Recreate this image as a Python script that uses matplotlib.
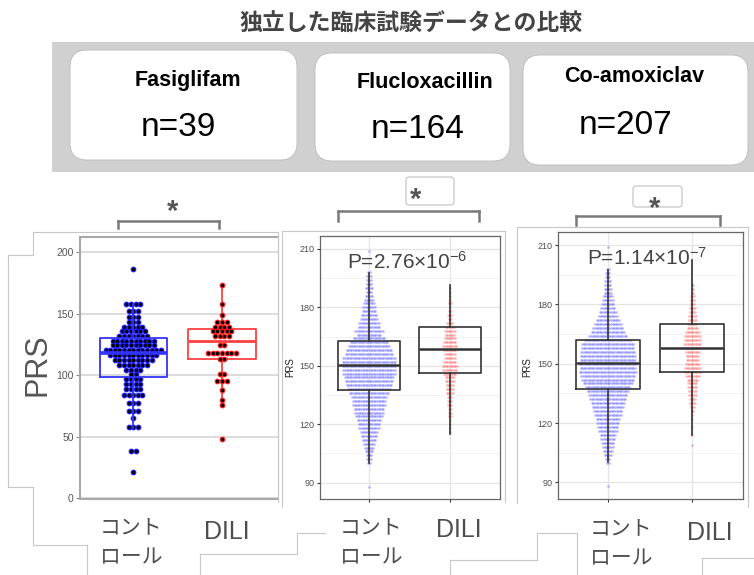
import matplotlib
matplotlib.use('Agg')
import matplotlib.pyplot as plt
from matplotlib.patches import FancyBboxPatch, Rectangle
from matplotlib.lines import Line2D

plt.rcParams['font.family'] = ['Liberation Sans', 'Noto Sans CJK JP', 'DejaVu Sans']
plt.rcParams['mathtext.default'] = 'regular'

W, H = 754, 575

title = '独立した臨床試験データとの比較'
drugs = ['Fasiglifam', 'Flucloxacillin', 'Co-amoxiclav']
n_labels = ['n=39', 'n=164', 'n=207']
group_line1 = 'コント'
group_line2 = 'ロール'
dili_label = 'DILI'
p_labels = [r'P=2.76×10$^{-6}$', r'P=1.14×10$^{-7}$']

# Fasiglifam dotplot: bin value -> number of dots
fas_ctrl_vals = [186, 158, 152, 147, 143, 139, 136, 132, 128, 124, 120, 116, 112,
                 108, 104, 101, 97, 93, 89, 84, 77, 71, 65, 58, 38, 21]
fas_ctrl_counts = [1, 4, 3, 3, 3, 5, 6, 7, 10, 10, 13, 11, 9,
                   7, 4, 2, 4, 4, 4, 5, 3, 3, 1, 3, 2, 1]
fas_dili_vals = [173, 158, 149, 143, 139, 136, 132, 124, 118, 113, 101, 95, 88, 80, 76, 48]
fas_dili_counts = [1, 1, 1, 3, 4, 5, 4, 2, 7, 2, 2, 3, 1, 1, 1, 1]

# Flucloxacillin / Co-amoxiclav dotplots (2-unit rows)
ctrl_rows = [209, 198, 196, 194, 192, 190, 188, 186, 184, 182, 180, 178, 176, 174, 172,
             170, 168, 166, 164, 162, 160, 158, 156, 154, 152, 150, 148, 146, 144,
             142, 140, 138, 136, 134, 132, 130, 128, 126, 124, 122, 120, 118, 116,
             114, 112, 110, 108, 106, 104, 102, 100, 88]
flu_ctrl_counts = [1, 2, 3, 3, 4, 5, 4, 5, 6, 7, 8, 9, 10, 11, 13,
                   14, 18, 15, 20, 24, 26, 29, 30, 33, 34, 34, 33, 33, 31,
                   30, 29, 27, 25, 22, 21, 21, 19, 18, 17, 15, 14, 13, 11,
                   10, 9, 7, 6, 5, 4, 3, 2, 1]
coa_ctrl_counts = [1, 2, 3, 3, 4, 4, 5, 5, 6, 7, 8, 9, 11, 12, 15,
                   17, 19, 21, 24, 30, 33, 33, 34, 35, 35, 36, 35, 36, 34,
                   33, 31, 28, 26, 24, 23, 21, 20, 18, 17, 15, 14, 13, 12,
                   10, 9, 8, 7, 6, 5, 3, 2, 1]
flu_dili_rows = [190, 188, 186, 184, 182, 180, 178, 176, 174, 172, 170, 168, 166, 164,
                 162, 160, 158, 156, 154, 152, 150, 148, 146, 144, 142, 140, 138, 136,
                 134, 132, 130, 128, 126, 124, 122, 120, 118, 116]
flu_dili_counts = [1, 1, 1, 1, 2, 1, 2, 3, 2, 4, 6, 7, 6, 7,
                   8, 9, 8, 7, 7, 8, 10, 9, 8, 6, 6, 5, 5, 5,
                   3, 3, 3, 2, 2, 2, 1, 1, 1, 1]
coa_dili_rows = [190, 188, 186, 184, 182, 180, 178, 176, 174, 172, 170, 168, 166, 164,
                 162, 160, 158, 156, 154, 152, 150, 148, 146, 144, 142, 140, 138, 136,
                 134, 132, 130, 128, 126, 124, 122, 118, 114, 109]
coa_dili_counts = [2, 2, 2, 3, 3, 3, 4, 4, 5, 5, 6, 7, 9, 10,
                   10, 11, 10, 9, 8, 8, 9, 10, 10, 9, 7, 6, 6, 5,
                   5, 4, 4, 3, 2, 1, 1, 1, 1, 1]

# box stats: whisker low, q1, median, q3, whisker high
fas_ctrl_box = [57, 98.6, 118, 130, 158]
fas_dili_box = [77, 113, 128, 137, 173]
flu_ctrl_box = [100.3, 137.3, 150.5, 162.5, 197.7]
flu_dili_box = [114.9, 146.4, 158.6, 169.7, 191.3]
coa_ctrl_box = [100.1, 137.3, 150.4, 162.2, 197.6]
coa_dili_box = [113.9, 146.0, 158.2, 170.0, 202.3]

fig = plt.figure(figsize=(W / 100, H / 100), dpi=100)
inch = fig.dpi_scale_trans


def fx(x):
    return x / W


def fy(y):
    return 1 - y / H


def add_ax(x0, y0, x1, y1):
    return fig.add_axes([fx(x0), fy(y1), (x1 - x0) / W, (y1 - y0) / H])


def dotplot(ax, x, vals, counts, dx, **kw):
    xs, ys = [], []
    for v, c in zip(vals, counts):
        for i in range(c):
            xs.append(x + (i - (c - 1) / 2) * dx)
            ys.append(v)
    ax.scatter(xs, ys, **kw)


def box(ax, pos, s, color, lw, mlw, z):
    st = [dict(whislo=s[0], q1=s[1], med=s[2], q3=s[3], whishi=s[4], fliers=[])]
    ax.bxp(st, positions=[pos], widths=0.76, showcaps=False, showfliers=False,
           boxprops=dict(color=color, lw=lw, zorder=z),
           whiskerprops=dict(color=color, lw=lw, zorder=z),
           medianprops=dict(color=color, lw=mlw, zorder=z + 0.1))


def line_px(x0, y0, x1, y1, color='#c8c8c8', lw=0.8):
    fig.add_artist(Line2D([x0 / 100, x1 / 100], [(H - y0) / 100, (H - y1) / 100],
                          transform=inch, color=color, lw=lw))


# slide outlines
for seg in [(33, 232, 278, 232), (33, 232, 33, 255), (8, 255, 33, 255), (8, 255, 8, 487),
            (8, 487, 33, 487), (33, 487, 33, 545), (33, 545, 87, 545), (87, 545, 87, 575),
            (278, 232, 278, 502), (200, 554, 297, 554), (200, 554, 200, 575),
            (297, 533, 297, 554), (297, 533, 325, 533),
            (282, 231, 505, 231), (282, 231, 282, 507), (505, 231, 505, 502),
            (450, 560, 537, 560), (450, 560, 450, 575), (537, 533, 537, 560),
            (537, 533, 577, 533), (577, 533, 577, 575),
            (517, 227, 748, 227), (517, 227, 517, 503), (748, 227, 748, 507),
            (702, 558, 754, 558), (702, 558, 702, 575)]:
    line_px(*seg)

# header
fig.text(fx(411), fy(23), title, fontsize=16.5, fontweight='bold', color='#444444',
         ha='center', va='center', family=['Noto Sans CJK JP', 'DejaVu Sans'])
fig.add_artist(Rectangle((52 / 100, (H - 172) / 100), (W - 52) / 100, 130 / 100,
                         transform=inch, facecolor='#d0d0d0', edgecolor='none'))
cards = [(70, 50, 297, 160), (315, 53, 510, 161), (523, 55, 748, 165)]
name_pos = [(188, 81), (425, 83), (634, 77)]
n_pos = [(178, 128), (418, 130), (626, 125)]
for (x0, y0, x1, y1), name, n, npos, nmpos in zip(cards, drugs, n_labels, n_pos, name_pos):
    fig.add_artist(FancyBboxPatch((x0 / 100, (H - y1) / 100), (x1 - x0) / 100, (y1 - y0) / 100,
                                  boxstyle='round,pad=0,rounding_size=0.17', transform=inch,
                                  facecolor='white', edgecolor='#bbbbbb', lw=0.6))
    fig.text(fx(nmpos[0]), fy(nmpos[1]), name, fontsize=15.5, fontweight='bold',
             ha='center', va='center', color='black')
    fig.text(fx(npos[0]), fy(npos[1]), n, fontsize=24, ha='center', va='center', color='black')

# panel 1: Fasiglifam
ax1 = add_ax(80, 237, 278, 499)
dx1 = 4.6 * 2.23 / 198
dotplot(ax1, 1, fas_ctrl_vals, fas_ctrl_counts, dx1, s=11, c='black',
        edgecolors='#1a1aff', linewidths=0.8, zorder=3)
dotplot(ax1, 2, fas_dili_vals, fas_dili_counts, dx1, s=11, c='black',
        edgecolors='#ff1a1a', linewidths=0.8, zorder=3)
box(ax1, 1, fas_ctrl_box, '#3333ff', 1.3, 2.6, 4)
box(ax1, 2, fas_dili_box, '#ff4040', 1.3, 2.0, 2)
ax1.set_xlim(0.40, 2.63)
ax1.set_ylim(-0.8, 212.2)
ax1.set_yticks([0, 50, 100, 150, 200])
ax1.set_xticks([])
ax1.grid(axis='y', color='#d6d6d6', lw=1.2)
ax1.set_axisbelow(True)
for sp in ax1.spines.values():
    sp.set_color('#a8a8a8')
    sp.set_linewidth(1.5)
ax1.spines['right'].set_linewidth(0.8)
ax1.tick_params(axis='y', length=3, color='#888888', labelcolor='#555555', labelsize=7.5, pad=1.5)
fig.text(fx(37), fy(365), 'PRS', fontsize=22, rotation=90, color='#555555',
         ha='center', va='center')


def gg_panel(ax, xl, ctrl_counts, dili_rows, dili_counts, cbox, dbox, width_px):
    dx = 1.6 * (xl[1] - xl[0]) / width_px
    dotplot(ax, 1, ctrl_rows, ctrl_counts, dx, s=3.5, c='#6f6fff', alpha=0.5,
            linewidths=0, zorder=2)
    dotplot(ax, 2, dili_rows, dili_counts, dx, s=3.5, c='#ff6f6f', alpha=0.5,
            linewidths=0, zorder=2)
    box(ax, 1, cbox, '#333333', 1.2, 1.8, 4)
    box(ax, 2, dbox, '#333333', 1.2, 1.8, 4)
    ax.set_xlim(*xl)
    ax.set_ylim(81.6, 216.6)
    ax.set_yticks([90, 120, 150, 180, 210])
    ax.set_yticks([105, 135, 165, 195], minor=True)
    ax.set_xticks([1, 2])
    ax.set_xticklabels(['', ''])
    ax.grid(which='major', color='#e4e4e4', lw=0.9)
    ax.grid(which='minor', axis='y', color='#f1f1f1', lw=0.6)
    ax.set_axisbelow(True)
    for sp in ax.spines.values():
        sp.set_color('#666666')
        sp.set_linewidth(0.9)
    ax.tick_params(which='major', length=2.5, color='#333333', labelcolor='#4d4d4d',
                   labelsize=6.5, pad=1.5)
    ax.tick_params(which='minor', length=0)


ax2 = add_ax(320, 236, 500, 499)
gg_panel(ax2, (0.395, 2.62), flu_ctrl_counts, flu_dili_rows, flu_dili_counts,
         flu_ctrl_box, flu_dili_box, 180)
fig.text(fx(290), fy(367), 'PRS', fontsize=7, rotation=90, color='#222222',
         ha='center', va='center')

ax3 = add_ax(558, 232, 743, 499)
gg_panel(ax3, (0.41, 2.60), coa_ctrl_counts, coa_dili_rows, coa_dili_counts,
         coa_ctrl_box, coa_dili_box, 185)
fig.text(fx(527), fy(367), 'PRS', fontsize=7, rotation=90, color='#222222',
         ha='center', va='center')

# p-values
fig.text(fx(407), fy(262), p_labels[0], fontsize=15, color='#444444', ha='center', va='center')
fig.text(fx(647), fy(258), p_labels[1], fontsize=15, color='#444444', ha='center', va='center')

# significance brackets
for x0, x1, ytop, ybot in [(118, 219, 221, 228), (338, 479, 211, 221), (576, 720, 216, 225)]:
    line_px(x0, ybot, x0, ytop, color='#7a7a7a', lw=1.8)
    line_px(x0, ytop, x1, ytop, color='#7a7a7a', lw=1.8)
    line_px(x1, ytop, x1, ybot, color='#7a7a7a', lw=1.8)
for x0, y0, x1, y1 in [(406, 177, 454, 205), (633, 186, 682, 207)]:
    fig.add_artist(FancyBboxPatch((x0 / 100, (H - y1) / 100), (x1 - x0) / 100, (y1 - y0) / 100,
                                  boxstyle='round,pad=0,rounding_size=0.03', transform=inch,
                                  facecolor='white', edgecolor='#c0c0c0', lw=0.8))
for sx, sy in [(173, 205), (416, 193), (655, 202)]:
    fig.text(fx(sx), fy(sy + 7), '*', fontsize=21, fontweight='bold', color='#555555',
             ha='center', va='center')

# group labels
jp = ['Noto Sans CJK JP', 'DejaVu Sans']
for lx, ly, dxl, dyl in [(100, 527, 227, 532), (340, 527, 459, 530), (590, 528, 710, 533)]:
    fig.text(fx(lx), fy(ly), group_line1, fontsize=15, color='#4d4d4d', ha='left',
             va='center', family=jp)
    fig.text(fx(lx), fy(ly + 30), group_line2, fontsize=15, color='#4d4d4d', ha='left',
             va='center', family=jp)
    fig.text(fx(dxl), fy(dyl), dili_label, fontsize=18, color='#4d4d4d', ha='center',
             va='center')

fig.savefig('out.png', dpi=100)
